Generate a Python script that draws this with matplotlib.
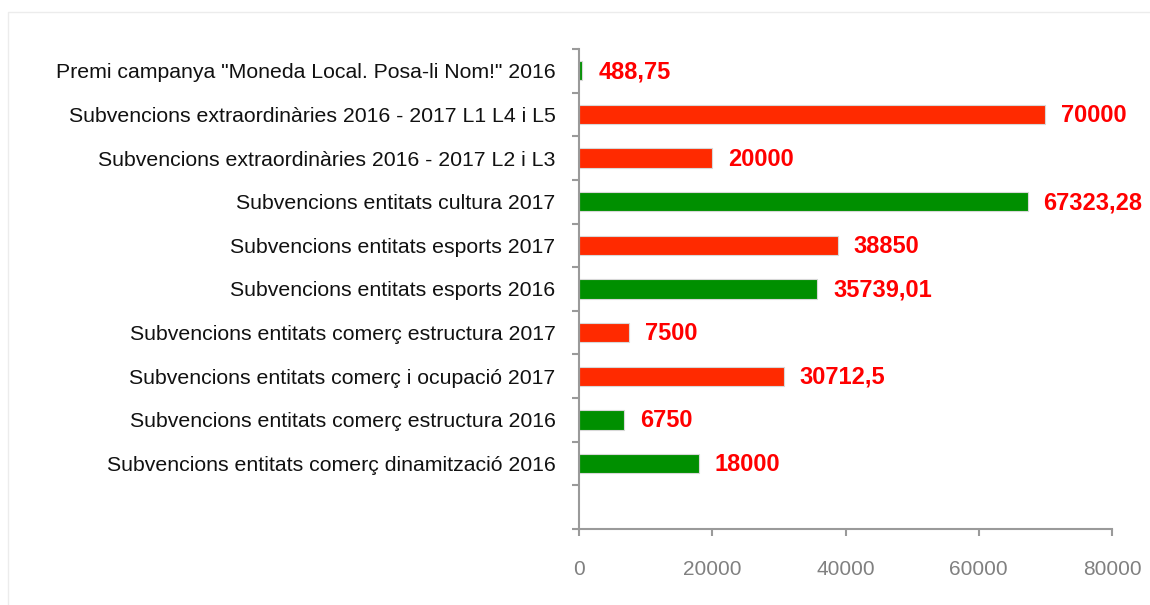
import matplotlib
matplotlib.use("Agg")
import matplotlib.pyplot as plt
from matplotlib.patches import Rectangle

plt.rcParams['font.family'] = ['Liberation Sans', 'DejaVu Sans']

# Categories listed bottom to top
categories = [
    "Subvencions entitats comerç dinamització 2016",
    "Subvencions entitats comerç estructura 2016",
    "Subvencions entitats comerç i ocupació 2017",
    "Subvencions entitats comerç estructura 2017",
    "Subvencions entitats esports 2016",
    "Subvencions entitats esports 2017",
    "Subvencions entitats cultura 2017",
    "Subvencions extraordinàries 2016 - 2017 L2 i L3",
    "Subvencions extraordinàries 2016 - 2017 L1 L4 i L5",
    "Premi campanya \"Moneda Local. Posa-li Nom!\" 2016",
]
values = [18000, 6750, 30712.5, 7500, 35739.01, 38850, 67323.28, 20000, 70000, 488.75]
status = ["g", "g", "r", "r", "g", "r", "g", "r", "r", "g"]
xticks = [0, 20000, 40000, 60000, 80000]

GREEN = "#008f00"
RED = "#ff2a00"
AXIS = "#9a9a9a"

fig = plt.figure(figsize=(11.5, 6.05), dpi=100)
fig.patches.append(Rectangle((8 / 1150, -0.1), 1.2, 1 - 12 / 605 + 0.1,
                             transform=fig.transFigure, fill=False,
                             edgecolor="#ececec", linewidth=1))
ax = fig.add_axes([579 / 1150, 1 - 529 / 605, (1112 - 579) / 1150, (529 - 49) / 605])

pos = [i + 1.5 for i in range(len(categories))]
colors = [GREEN if s == "g" else RED for s in status]
ax.barh(pos, values, height=0.44, color=colors, edgecolor="#d8d8d8", linewidth=0.8)


def fmt(v):
    s = ("%.2f" % v).rstrip("0").rstrip(".")
    return s.replace(".", ",")


for p, v in zip(pos, values):
    ax.annotate(fmt(v), (v, p), xytext=(16, -1), textcoords="offset pixels",
                ha="left", va="center", color="#ff0000", fontsize=17,
                fontweight="bold")

ax.set_xlim(0, 80000)
ax.set_ylim(0, len(categories) + 1)
ax.set_xticks(xticks)
ax.set_xticklabels([str(t) for t in xticks])
ax.set_yticks(range(0, len(categories) + 2))
ax.set_yticklabels([])
ax.set_yticks(pos, minor=True)
ax.set_yticklabels(categories, minor=True)

for side in ["top", "right"]:
    ax.spines[side].set_visible(False)
for side in ["left", "bottom"]:
    ax.spines[side].set_color(AXIS)
    ax.spines[side].set_linewidth(1.5)

ax.tick_params(axis="x", which="major", direction="out", length=5, width=1.5,
               color=AXIS, labelcolor="#808080", labelsize=15, pad=17)
ax.tick_params(axis="y", which="major", direction="out", length=5, width=1.5,
               color=AXIS)
ax.tick_params(axis="y", which="minor", length=0, labelsize=15.3,
               labelcolor="#111111", pad=17)

fig.savefig("out.png", dpi=100)
